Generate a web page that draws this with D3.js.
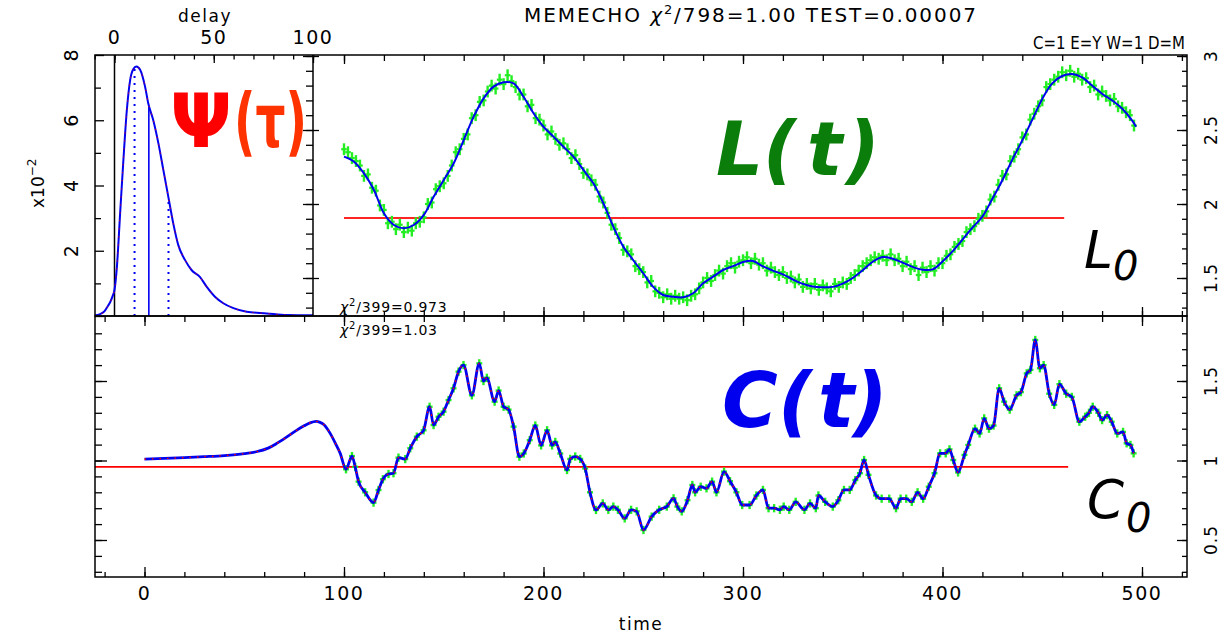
<!DOCTYPE html>
<html><head><meta charset="utf-8">
<script src="https://cdn.jsdelivr.net/npm/d3@7"></script>
<style>
body{margin:0;background:#fff}
svg{display:block}
text{font-family:"DejaVu Sans",sans-serif}
</style>
</head><body>
<svg id="c" width="1222" height="634"></svg>
<script>
// ---------------- DATA ----------------
// transfer function Psi(tau), x10^-2
const psiDelay = [-10.3,-7.6,-5.1,-3.4,-2.2,-1,0,1.2,2.85,4.5,6.2,7.9,9.5,11.0,12.9,15.4,17.0,19.5,22.1,24.6,27.1,29.6,32.1,35.5,38.8,43,46.4,50.6,54.8,59.9,66.6,76.7,86.8,100];
const psiValue = [0.02,0.05,0.14,0.3,0.42,0.6,0.8,1.5,3.16,4.8,6.3,7.24,7.57,7.65,7.55,7.03,6.52,6.01,5.3,4.48,3.66,2.84,2.18,1.72,1.41,1.2,0.9,0.59,0.39,0.24,0.13,0.08,0.03,0.02];
const psiMarkDelay = [10.1,17.3,27.2];
const psiMarkTop = [7.58,6.45,3.65];
const psiMarkDotted = [true,false,true];

// L(t) model (blue line)
const lModelT = [100,105,110,115,120,125,130,135,140,145,150,155,160,165,170,175,180,185,190,195,200,205,210,215,220,225,230,235,240,245,250,255,260,265,270,275,280,285,290,295,300,305,310,315,320,325,330,335,340,345,350,355,360,365,370,375,380,385,390,395,400,405,410,415,420,425,430,435,440,445,450,455,460,465,470,475,480,485,490,495,497];
const lModelV = [2.32,2.286,2.207,2.095,1.937,1.858,1.836,1.858,1.926,2.05,2.162,2.275,2.432,2.59,2.714,2.793,2.822,2.815,2.725,2.613,2.522,2.455,2.387,2.32,2.23,2.14,2.005,1.847,1.712,1.62,1.532,1.44,1.385,1.374,1.37,1.397,1.464,1.509,1.554,1.58,1.608,1.615,1.578,1.55,1.525,1.49,1.46,1.442,1.438,1.44,1.462,1.5,1.552,1.61,1.642,1.63,1.604,1.575,1.556,1.558,1.612,1.68,1.76,1.84,1.915,2.035,2.16,2.3,2.43,2.57,2.71,2.815,2.865,2.878,2.855,2.8,2.745,2.7,2.645,2.565,2.522];
// L(t) data (green), t = 100, 102, ..., 496
const lDataStart = 100, lDataStep = 2, lDataErr = 0.04;
const lData = [2.37,2.35,2.31,2.29,2.26,2.19,2.20,2.11,2.09,1.99,1.96,1.87,1.88,1.83,1.86,1.81,1.84,1.82,1.87,1.88,
1.91,2.00,2.01,2.10,2.12,2.14,2.19,2.26,2.35,2.37,2.44,2.47,2.58,2.60,2.69,2.70,2.76,2.80,2.78,2.84,
2.81,2.87,2.83,2.79,2.74,2.74,2.66,2.67,2.58,2.57,2.53,2.47,2.49,2.44,2.40,2.41,2.37,2.31,2.33,2.27,
2.21,2.20,2.16,2.13,2.05,2.01,1.94,1.86,1.83,1.77,1.69,1.68,1.66,1.58,1.56,1.54,1.47,1.48,1.41,1.40,
1.37,1.39,1.36,1.38,1.36,1.37,1.35,1.38,1.39,1.43,1.47,1.50,1.48,1.52,1.55,1.53,1.58,1.60,1.57,1.61,
1.62,1.64,1.60,1.63,1.59,1.60,1.55,1.57,1.54,1.52,1.54,1.50,1.51,1.47,1.49,1.44,1.46,1.43,1.46,1.42,
1.45,1.43,1.41,1.46,1.44,1.47,1.46,1.50,1.52,1.55,1.58,1.60,1.62,1.64,1.63,1.65,1.62,1.66,1.62,1.63,
1.58,1.61,1.56,1.58,1.52,1.57,1.54,1.58,1.55,1.60,1.60,1.65,1.66,1.71,1.73,1.75,1.81,1.83,1.85,1.90,
1.92,1.95,2.03,2.05,2.13,2.19,2.20,2.29,2.32,2.37,2.45,2.47,2.57,2.61,2.66,2.70,2.79,2.81,2.84,2.86,
2.89,2.87,2.90,2.86,2.88,2.84,2.85,2.79,2.80,2.74,2.76,2.73,2.70,2.71,2.66,2.65,2.62,2.60,2.53];
const L0 = 1.905, L0From = 100, L0To = 461;

// C(t) model (blue) and data (green, t >= 100)
const cT = [0,10,20,30,40,50,56,62,66,71,76,80,83,86,88,90,93,96,98.1,
101,104,105.6,107.3,110.6,114.8,117.3,119.5,122.3,124.8,127.3,130.7,133.2,136.5,139.9,142.9,144.9,147.4,149.9,152.4,154.9,157.4,159.9,164.1,167.8,169.9,171.6,175.5,177.5,180,182.5,185,187.9,190.1,193.1,195.9,198.8,201.8,204.3,205.9,208.4,211.8,213.4,215.9,218.4,220.9,223.3,226.3,
229.7,232.5,235,237.3,240.7,243.9,246.7,250.1,254.2,258,261.8,265.2,267.1,269.3,272.2,274.6,276,278.8,281.7,284.5,286.7,290.5,293.5,296.7,299.6,303.3,306.7,310,312.8,315.6,318.5,320.4,323.2,326.4,330.8,333.6,336.5,337.8,341.2,345,347.8,350.6,353.5,356.3,358.6,360.7,362.9,366.7,369.5,373.3,376.7,379,381.8,384.6,387.5,390.3,393.1,396,398.8,401.6,403.5,405.4,407.8,411,412.9,416.3,418.6,420.9,423.3,425.6,428.4,430.9,433.7,437.1,439.3,442.2,444.1,446.5,448.8,450.7,453.5,456,458.6,462,464.8,468.6,471.5,473.4,475.3,478.1,480,482.5,484.8,487.6,490.5,492.3,494.2,495.8];
const cV = [1.009,1.013,1.018,1.024,1.031,1.043,1.055,1.078,1.105,1.145,1.188,1.218,1.237,1.246,1.240,1.225,1.172,1.100,1.045,
0.945,1.028,0.96,0.867,0.80,0.735,0.814,0.882,0.915,0.92,1.018,1.009,1.077,1.15,1.19,1.338,1.223,1.275,1.307,1.38,1.454,1.559,1.60,1.41,1.611,1.50,1.52,1.37,1.44,1.338,1.32,1.213,1.024,1.044,1.128,1.22,1.095,1.19,1.095,1.117,1.044,0.94,1.01,1.025,1.01,0.95,0.80,0.689,
0.73,0.69,0.71,0.69,0.636,0.69,0.68,0.563,0.647,0.69,0.71,0.762,0.71,0.68,0.75,0.846,0.80,0.835,0.825,0.867,0.80,0.93,0.87,0.80,0.72,0.72,0.78,0.815,0.70,0.70,0.69,0.71,0.69,0.74,0.69,0.73,0.70,0.78,0.74,0.71,0.75,0.815,0.815,0.877,0.92,1.003,0.91,0.78,0.76,0.76,0.70,0.76,0.76,0.74,0.80,0.76,0.835,0.92,1.045,1.045,1.07,1.003,0.925,1.035,1.098,1.20,1.17,1.265,1.20,1.22,1.454,1.37,1.32,1.41,1.43,1.548,1.57,1.758,1.58,1.60,1.42,1.35,1.48,1.42,1.40,1.244,1.275,1.30,1.338,1.30,1.254,1.285,1.244,1.17,1.18,1.108,1.098,1.045];
const cDataFrom = 100, cDataErr = 0.026;
const C0 = 0.96, C0To = 463;

// ticks / labels
const timeLabelVals = [0,100,200,300,400,500];
const timeLabels = ["0","100","200","300","400","500"];
const delayLabelVals = [0,50,100];
const delayLabels = ["0","50","100"];
const psiLabelVals = [2,4,6,8];
const psiLabels = ["2","4","6","8"];
const lLabelVals = [1.5,2,2.5,3];
const lLabels = ["1.5","2","2.5","3"];
const cLabelVals = [0.5,1,1.5];
const cLabels = ["0.5","1","1.5"];

// ---------------- LAYOUT ----------------
const PX0 = 95, PX1 = 313, TY0 = 55, MID = 316, BY1 = 577, RX = 1187;
const svg = d3.select("#c");

const xTime = d3.scaleLinear().domain([0,500]).range([144.5,1142]);
const xDelay = d3.scaleLinear().domain([0,100]).range([114.5,313]);
const yPsi = d3.scaleLinear().domain([0,8]).range([MID,TY0]);
const yL = d3.scaleLinear().domain([1.5,3]).range([278,56]);
const yC = d3.scaleLinear().domain([0.5,1.5]).range([540,381]);

const defs = svg.append("defs");
defs.append("clipPath").attr("id","clipL").append("rect").attr("x",PX1).attr("y",TY0).attr("width",RX-PX1).attr("height",MID-TY0);
defs.append("clipPath").attr("id","clipC").append("rect").attr("x",PX0).attr("y",MID).attr("width",RX-PX0).attr("height",BY1-MID);
defs.append("clipPath").attr("id","clipP").append("rect").attr("x",PX0).attr("y",TY0).attr("width",PX1-PX0).attr("height",MID-TY0);

const BLUE = "#0000f0", GREEN = "#22ee22", RED = "#ff0000";

// ---------- Psi panel ----------
const gP = svg.append("g").attr("clip-path","url(#clipP)");
gP.append("line").attr("x1",xDelay(0)).attr("x2",xDelay(0)).attr("y1",TY0).attr("y2",MID).attr("stroke","#000").attr("stroke-width",1.5);
psiMarkDelay.forEach((d,i)=>{
  gP.append("line").attr("x1",xDelay(d)).attr("x2",xDelay(d)).attr("y1",yPsi(0)).attr("y2",yPsi(psiMarkTop[i]))
    .attr("stroke",BLUE).attr("stroke-width",psiMarkDotted[i]?2:1.6)
    .attr("stroke-dasharray",psiMarkDotted[i]?"2,5":null);
});
const psiLine = d3.line().x((d,i)=>xDelay(psiDelay[i])).y(d=>yPsi(d)).curve(d3.curveMonotoneX);
gP.append("path").attr("d",psiLine(psiValue)).attr("fill","none").attr("stroke",BLUE).attr("stroke-width",2);
gP.append("path").attr("d",psiLine(psiValue)).attr("fill","none").attr("stroke",RED).attr("stroke-width",1.2).attr("stroke-dasharray","1,7").attr("opacity",0.8);

// ---------- L panel ----------
const gL = svg.append("g").attr("clip-path","url(#clipL)");
const lT = lData.map((d,i)=>lDataStart+lDataStep*i);
gL.append("line").attr("x1",xTime(L0From)).attr("x2",xTime(L0To)).attr("y1",yL(L0)).attr("y2",yL(L0))
  .attr("stroke",RED).attr("stroke-width",2).attr("opacity",0.85);
gL.selectAll("line.ebv").data(lData).join("line").attr("class","ebv")
  .attr("x1",(d,i)=>xTime(lT[i])).attr("x2",(d,i)=>xTime(lT[i]))
  .attr("y1",d=>yL(d-lDataErr)).attr("y2",d=>yL(d+lDataErr))
  .attr("stroke",GREEN).attr("stroke-width",2.4);
gL.selectAll("line.ebh").data(lData).join("line").attr("class","ebh")
  .attr("x1",(d,i)=>xTime(lT[i])-2.8).attr("x2",(d,i)=>xTime(lT[i])+2.8)
  .attr("y1",d=>yL(d)).attr("y2",d=>yL(d))
  .attr("stroke",GREEN).attr("stroke-width",2.2);
const lLine = d3.line().x((d,i)=>xTime(lModelT[i])).y(d=>yL(d)).curve(d3.curveCatmullRom.alpha(0.5));
gL.append("path").attr("d",lLine(lModelV)).attr("fill","none").attr("stroke",BLUE).attr("stroke-width",2);

// ---------- C panel ----------
const gC = svg.append("g").attr("clip-path","url(#clipC)");
gC.append("line").attr("x1",PX0).attr("x2",xTime(C0To)).attr("y1",yC(C0)).attr("y2",yC(C0))
  .attr("stroke",RED).attr("stroke-width",1.6);
const cIdx = cT.map((t,i)=>i).filter(i=>cT[i]>=cDataFrom);
gC.selectAll("line.cv").data(cIdx).join("line").attr("class","cv")
  .attr("x1",i=>xTime(cT[i])).attr("x2",i=>xTime(cT[i]))
  .attr("y1",i=>yC(cV[i]-cDataErr)).attr("y2",i=>yC(cV[i]+cDataErr))
  .attr("stroke",GREEN).attr("stroke-width",2.4);
gC.selectAll("line.ch").data(cIdx).join("line").attr("class","ch")
  .attr("x1",i=>xTime(cT[i])-3).attr("x2",i=>xTime(cT[i])+3)
  .attr("y1",i=>yC(cV[i])).attr("y2",i=>yC(cV[i]))
  .attr("stroke",GREEN).attr("stroke-width",2.4);
const cLine = d3.line().x((d,i)=>xTime(cT[i])).y(d=>yC(d)).curve(d3.curveMonotoneX);
gC.append("path").attr("d",cLine(cV)).attr("fill","none").attr("stroke",BLUE).attr("stroke-width",2.8).attr("stroke-linejoin","round");
gC.append("path").attr("d",cLine(cV)).attr("fill","none").attr("stroke",RED).attr("stroke-width",1.3).attr("stroke-dasharray","1.5,6");

// ---------- Frames ----------
svg.append("rect").attr("x",PX0).attr("y",TY0).attr("width",RX-PX0).attr("height",MID-TY0).attr("fill","none").attr("stroke","#000").attr("stroke-width",1.5);
svg.append("line").attr("x1",PX1).attr("x2",PX1).attr("y1",TY0).attr("y2",MID).attr("stroke","#000").attr("stroke-width",1.5);
svg.append("rect").attr("x",PX0).attr("y",MID).attr("width",RX-PX0).attr("height",BY1-MID).attr("fill","none").attr("stroke","#000").attr("stroke-width",1.5);

// ---------- Ticks via d3 axes ----------
function ticks(axisFn, scale, vals, size, tx, ty){
  const g = svg.append("g").attr("transform",`translate(${tx},${ty})`)
    .call(axisFn(scale).tickValues(vals).tickSize(size).tickFormat(""));
  g.select(".domain").remove();
  g.selectAll("line").attr("stroke","#000").attr("stroke-width",1.3);
  return g;
}
const tMinor = d3.range(-20,521,20), tMajor = d3.range(0,501,100);
// bottom panel
ticks(d3.axisBottom, xTime, tMinor, -5, 0, BY1);
ticks(d3.axisBottom, xTime, tMajor, -10, 0, BY1);
ticks(d3.axisTop, xTime, tMinor, -6, 0, MID);
ticks(d3.axisTop, xTime, tMajor, -10, 0, MID);
const cMinor = d3.range(3,19).map(v=>v/10), cMajor = [0.5,1,1.5];
ticks(d3.axisLeft, yC, cMinor, -7, PX0, 0);
ticks(d3.axisLeft, yC, cMajor, -12, PX0, 0);
ticks(d3.axisRight, yC, cMinor, -5, RX, 0);
ticks(d3.axisRight, yC, cMajor, -10, RX, 0);
// L panel
const tMinorL = tMinor.filter(v=>v>=100), tMajorL = tMajor.filter(v=>v>=100);
ticks(d3.axisTop, xTime, tMinorL, -6, 0, TY0);
ticks(d3.axisTop, xTime, tMajorL, -9, 0, TY0);
ticks(d3.axisBottom, xTime, tMinorL, -5, 0, MID);
ticks(d3.axisBottom, xTime, tMajorL, -9, 0, MID);
const lMinor = d3.range(13,31).map(v=>v/10), lMajor = [1.5,2,2.5,3];
ticks(d3.axisRight, yL, lMinor, -5, RX, 0);
ticks(d3.axisRight, yL, lMajor, -10, RX, 0);
ticks(d3.axisLeft, yL, lMinor, 7, PX1, 0);
ticks(d3.axisLeft, yL, lMajor, 10, PX1, 0);
ticks(d3.axisRight, yL, lMajor, 6, PX1, 0);
// Psi panel
const dMinor = d3.range(-10,101,10), dMajor = [0,50,100];
ticks(d3.axisTop, xDelay, dMinor, -4.5, 0, TY0);
ticks(d3.axisTop, xDelay, dMajor, -8, 0, TY0);
ticks(d3.axisLeft, yPsi, [1,3,5,7], -6, PX0, 0);
ticks(d3.axisLeft, yPsi, [0,2,4,6,8], -9, PX0, 0);

// ---------- Tick labels ----------
const LBL = 19;
svg.selectAll("text.tl").data(timeLabelVals).join("text").attr("class","tl")
  .attr("x",d=>xTime(d)).attr("y",600).attr("text-anchor","middle")
  .attr("font-size",LBL).attr("letter-spacing",1.5).text((d,i)=>timeLabels[i]);
svg.selectAll("text.dl").data(delayLabelVals).join("text").attr("class","dl")
  .attr("x",d=>xDelay(d)).attr("y",44).attr("text-anchor","middle")
  .attr("font-size",LBL).attr("letter-spacing",1.5).text((d,i)=>delayLabels[i]);
function rotLabels(vals, labels, scale, x, cls, size){
  svg.selectAll("text."+cls).data(vals).join("text").attr("class",cls)
    .attr("transform",d=>`translate(${x},${scale(d)}) rotate(-90)`)
    .attr("text-anchor","middle").attr("dy","0.36em")
    .attr("font-size",size).attr("letter-spacing",1).text((d,i)=>labels[i]);
}
rotLabels(psiLabelVals, psiLabels, yPsi, 71.5, "pl", LBL);
rotLabels(lLabelVals, lLabels, yL, 1211, "ll", 17);
rotLabels(cLabelVals, cLabels, yC, 1211, "cl", 17);

// axis titles
svg.append("text").attr("x",205).attr("y",22).attr("text-anchor","middle").attr("font-size",17).attr("letter-spacing",1.5).text("delay");
svg.append("text").attr("x",641).attr("y",630).attr("text-anchor","middle").attr("font-size",17).attr("letter-spacing",1.5).text("time");
const xl = svg.append("text").attr("transform","translate(44,208) rotate(-90)").attr("font-size",17);
xl.append("tspan").text("x10");
xl.append("tspan").attr("dy",-8).attr("font-size",12).text("\u22122");

// title
const tt = svg.append("text").attr("x",524).attr("y",22).attr("font-size",20).attr("textLength",452).attr("lengthAdjust","spacing");
tt.append("tspan").text("MEMECHO ");
tt.append("tspan").attr("font-style","italic").text("\u03c7");
tt.append("tspan").attr("dy",-8).attr("font-size",13).text("2");
tt.append("tspan").attr("dy",8).text("/798=1.00 TEST=0.00007");
svg.append("text").attr("x",1033).attr("y",49).attr("font-size",17).attr("textLength",152).attr("lengthAdjust","spacingAndGlyphs").text("C=1 E=Y W=1 D=M");

// chi2 labels
function chi(x,y,rest){
  const t = svg.append("text").attr("x",x).attr("y",y).attr("font-size",14).attr("letter-spacing",0.8);
  t.append("tspan").attr("font-style","italic").text("\u03c7");
  t.append("tspan").attr("dy",-6).attr("font-size",10).text("2");
  t.append("tspan").attr("dy",6).text(rest);
}
chi(340,312,"/399=0.973");
chi(340,335,"/399=1.03");

// big labels
svg.append("text").attr("x",170).attr("y",147).attr("font-family","'DejaVu Serif',serif").attr("font-weight","bold").attr("font-size",74)
  .attr("textLength",62).attr("lengthAdjust","spacingAndGlyphs").attr("fill","#ff0000").text("\u03a8");
svg.append("text").attr("x",234).attr("y",147).attr("font-family","'DejaVu Serif',serif").attr("font-weight","bold").attr("font-size",74)
  .attr("textLength",73).attr("lengthAdjust","spacingAndGlyphs").attr("fill","#ff3300").text("(\u03c4)");
function bigLabel(parts, xs, y, size, color){
  parts.forEach((p,i)=>svg.append("text").attr("x",xs[i]).attr("y",y).attr("font-family","'Liberation Sans',Arial,sans-serif")
    .attr("font-weight","bold").attr("font-style","italic").attr("font-size",size).attr("fill",color).text(p));
}
bigLabel(["L","(","t",")"],[716,763,807,846],175,74,"#0a7d0a");
bigLabel(["C","(","t",")"],[722,778,818,853],427,76,"#0000ee");
svg.append("text").attr("x",1084).attr("y",268).attr("font-family","'Liberation Sans',Arial,sans-serif").attr("font-style","italic").attr("font-size",52).text("L");
svg.append("text").attr("x",1113).attr("y",280).attr("font-family","'Liberation Sans',Arial,sans-serif").attr("font-style","italic").attr("font-size",40).text("0");
svg.append("text").attr("x",1087).attr("y",518).attr("font-family","'Liberation Sans',Arial,sans-serif").attr("font-style","italic").attr("font-size",53).text("C");
svg.append("text").attr("x",1126).attr("y",532).attr("font-family","'Liberation Sans',Arial,sans-serif").attr("font-style","italic").attr("font-size",40).text("0");
</script>
</body></html>
